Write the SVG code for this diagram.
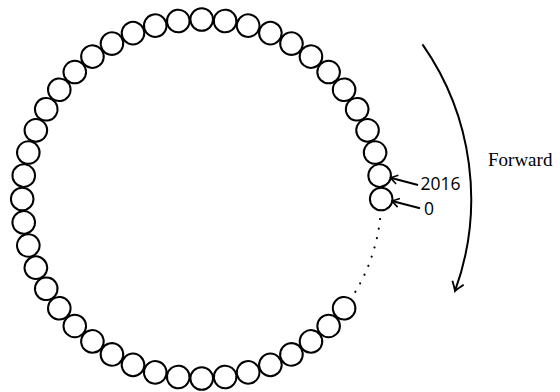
<svg xmlns="http://www.w3.org/2000/svg" xmlns:xlink="http://www.w3.org/1999/xlink" width="560" height="392" viewBox="0 0 560 392">
<style>
.b{fill:none;stroke:#000;stroke-width:2}
.d{fill:#000;stroke:none}
.ln{fill:none;stroke:#000;stroke-width:2}
.lbl{font-family:"Open Sans",Lato,"Liberation Sans",sans-serif;font-size:17.5px;fill:#000}
.fw{font-family:"Liberation Serif","DejaVu Serif",serif;font-size:19px;fill:#000}
</style>
<defs>
<circle id="c" cx="381.2" cy="199" r="11.3"/>
<circle id="dot" cx="381.2" cy="199" r="1.1"/>
<marker id="ah" markerUnits="userSpaceOnUse" markerWidth="16" markerHeight="16" viewBox="-10 -8 12 16" refX="0" refY="0" orient="auto">
<path d="M -7 -4.5 L 0 0 L -7 4.5" fill="none" stroke="#000" stroke-width="1.6"/>
</marker>
<marker id="ah2" markerUnits="userSpaceOnUse" markerWidth="18" markerHeight="18" viewBox="-12 -9 14 18" refX="0" refY="0" orient="auto">
<path d="M -9 -6 Q -3 -1.5 0 0 Q -3 1.5 -9 6" fill="none" stroke="#000" stroke-width="1.8"/>
</marker>
</defs>
<g id="ring">
<g id="n0"><use xlink:href="#c" class="b"/></g>
<g id="n1" transform="rotate(-7.5 201.7 199)"><use xlink:href="#c" class="b"/></g>
<g id="n2" transform="rotate(-15 201.7 199)"><use xlink:href="#c" class="b"/></g>
<g id="n3" transform="rotate(-22.5 201.7 199)"><use xlink:href="#c" class="b"/></g>
<g id="n4" transform="rotate(-30 201.7 199)"><use xlink:href="#c" class="b"/></g>
<g id="n5" transform="rotate(-37.5 201.7 199)"><use xlink:href="#c" class="b"/></g>
<g id="n6" transform="rotate(-45 201.7 199)"><use xlink:href="#c" class="b"/></g>
<g id="n7" transform="rotate(-52.5 201.7 199)"><use xlink:href="#c" class="b"/></g>
<g id="n8" transform="rotate(-60 201.7 199)"><use xlink:href="#c" class="b"/></g>
<g id="n9" transform="rotate(-67.5 201.7 199)"><use xlink:href="#c" class="b"/></g>
<g id="n10" transform="rotate(-75 201.7 199)"><use xlink:href="#c" class="b"/></g>
<g id="n11" transform="rotate(-82.5 201.7 199)"><use xlink:href="#c" class="b"/></g>
<g id="n12" transform="rotate(-90 201.7 199)"><use xlink:href="#c" class="b"/></g>
<g id="n13" transform="rotate(-97.5 201.7 199)"><use xlink:href="#c" class="b"/></g>
<g id="n14" transform="rotate(-105 201.7 199)"><use xlink:href="#c" class="b"/></g>
<g id="n15" transform="rotate(-112.5 201.7 199)"><use xlink:href="#c" class="b"/></g>
<g id="n16" transform="rotate(-120 201.7 199)"><use xlink:href="#c" class="b"/></g>
<g id="n17" transform="rotate(-127.5 201.7 199)"><use xlink:href="#c" class="b"/></g>
<g id="n18" transform="rotate(-135 201.7 199)"><use xlink:href="#c" class="b"/></g>
<g id="n19" transform="rotate(-142.5 201.7 199)"><use xlink:href="#c" class="b"/></g>
<g id="n20" transform="rotate(-150 201.7 199)"><use xlink:href="#c" class="b"/></g>
<g id="n21" transform="rotate(-157.5 201.7 199)"><use xlink:href="#c" class="b"/></g>
<g id="n22" transform="rotate(-165 201.7 199)"><use xlink:href="#c" class="b"/></g>
<g id="n23" transform="rotate(-172.5 201.7 199)"><use xlink:href="#c" class="b"/></g>
<g id="n24" transform="rotate(-180 201.7 199)"><use xlink:href="#c" class="b"/></g>
<g id="n25" transform="rotate(-187.5 201.7 199)"><use xlink:href="#c" class="b"/></g>
<g id="n26" transform="rotate(-195 201.7 199)"><use xlink:href="#c" class="b"/></g>
<g id="n27" transform="rotate(-202.5 201.7 199)"><use xlink:href="#c" class="b"/></g>
<g id="n28" transform="rotate(-210 201.7 199)"><use xlink:href="#c" class="b"/></g>
<g id="n29" transform="rotate(-217.5 201.7 199)"><use xlink:href="#c" class="b"/></g>
<g id="n30" transform="rotate(-225 201.7 199)"><use xlink:href="#c" class="b"/></g>
<g id="n31" transform="rotate(-232.5 201.7 199)"><use xlink:href="#c" class="b"/></g>
<g id="n32" transform="rotate(-240 201.7 199)"><use xlink:href="#c" class="b"/></g>
<g id="n33" transform="rotate(-247.5 201.7 199)"><use xlink:href="#c" class="b"/></g>
<g id="n34" transform="rotate(-255 201.7 199)"><use xlink:href="#c" class="b"/></g>
<g id="n35" transform="rotate(-262.5 201.7 199)"><use xlink:href="#c" class="b"/></g>
<g id="n36" transform="rotate(-270 201.7 199)"><use xlink:href="#c" class="b"/></g>
<g id="n37" transform="rotate(-277.5 201.7 199)"><use xlink:href="#c" class="b"/></g>
<g id="n38" transform="rotate(-285 201.7 199)"><use xlink:href="#c" class="b"/></g>
<g id="n39" transform="rotate(-292.5 201.7 199)"><use xlink:href="#c" class="b"/></g>
<g id="n40" transform="rotate(-300 201.7 199)"><use xlink:href="#c" class="b"/></g>
<g id="n41" transform="rotate(-307.5 201.7 199)"><use xlink:href="#c" class="b"/></g>
<g id="n42" transform="rotate(-315 201.7 199)"><use xlink:href="#c" class="b"/></g>
<g id="n43" transform="rotate(-322.5 201.7 199)"><use xlink:href="#c" class="b"/></g>
</g>
<g id="dots">
<use xlink:href="#dot" class="d" transform="rotate(6.4 201.7 199)"/>
<use xlink:href="#dot" class="d" transform="rotate(9.49 201.7 199)"/>
<use xlink:href="#dot" class="d" transform="rotate(12.58 201.7 199)"/>
<use xlink:href="#dot" class="d" transform="rotate(15.67 201.7 199)"/>
<use xlink:href="#dot" class="d" transform="rotate(18.76 201.7 199)"/>
<use xlink:href="#dot" class="d" transform="rotate(21.85 201.7 199)"/>
<use xlink:href="#dot" class="d" transform="rotate(24.94 201.7 199)"/>
<use xlink:href="#dot" class="d" transform="rotate(28.03 201.7 199)"/>
<use xlink:href="#dot" class="d" transform="rotate(31.12 201.7 199)"/>
</g>
<g id="connectors">
<path class="ln" d="M 418 185 L 390.5 177.8" marker-end="url(#ah)"/>
<path class="ln" d="M 420 208.3 L 392 201" marker-end="url(#ah)"/>
<path class="ln" d="M 422.46 44.42 A 269.5 269.5 0 0 1 454.95 291.17" marker-end="url(#ah2)"/>
</g>
<g id="labels">
<text class="lbl" x="420.5" y="189.5">2016</text>
<text class="lbl" x="424" y="214.5">0</text>
<text class="fw" x="488" y="166">Forward</text>
</g>
</svg>
